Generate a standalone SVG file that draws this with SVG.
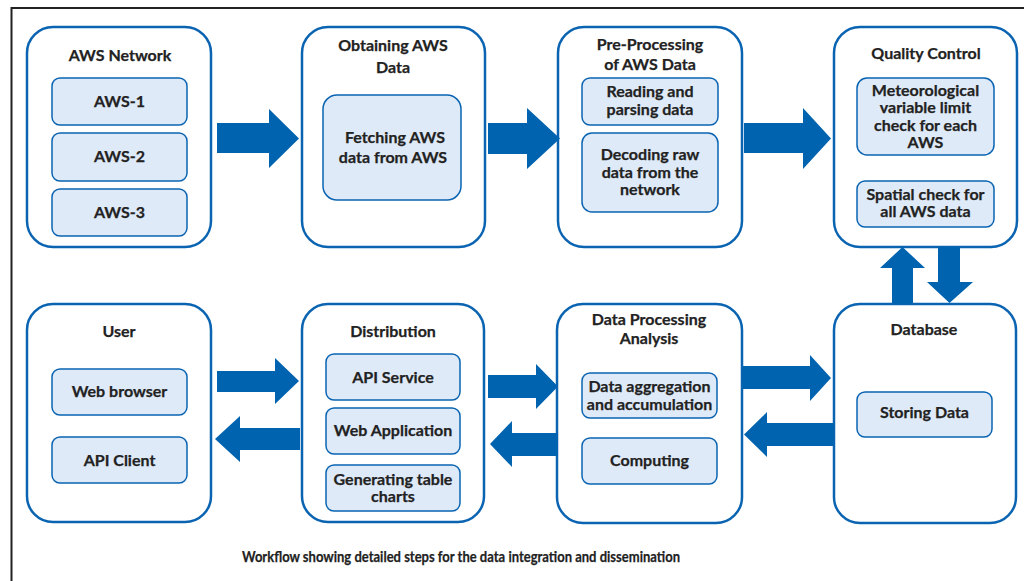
<svg xmlns="http://www.w3.org/2000/svg" width="1024" height="581" viewBox="0 0 1024 581">
<style>
.outer{fill:#fff;stroke:#0a64b2;stroke-width:2.5}
.inner{fill:#dfeaf8;stroke:#0a64b2;stroke-width:1.5}
.t{font-family:Lato,"Liberation Sans",sans-serif;font-weight:700;font-size:16px;fill:#222;text-anchor:middle;stroke:#222;stroke-width:0.25}
.arr{fill:#0063b0}
</style>
<rect x="0" y="0" width="1024" height="581" fill="#fff"/>
<path d="M11.5 581 V8 H1024" fill="none" stroke="#222" stroke-width="2"/>

<g id="aws-network">
<rect class="outer" x="27" y="27" width="184" height="220" rx="26"/>
<text class="t" x="120" y="61">AWS Network</text>
<rect class="inner" x="52" y="78" width="135" height="47" rx="8"/>
<text class="t" x="119.5" y="107">AWS-1</text>
<rect class="inner" x="52" y="133" width="135" height="48" rx="8"/>
<text class="t" x="119.5" y="162">AWS-2</text>
<rect class="inner" x="52" y="189" width="135" height="47" rx="8"/>
<text class="t" x="119.5" y="218">AWS-3</text>
</g>

<g id="obtaining">
<rect class="outer" x="302" y="27" width="183" height="220" rx="26"/>
<text class="t" x="393" y="51">Obtaining AWS</text>
<text class="t" x="393" y="73">Data</text>
<rect class="inner" x="323" y="95" width="138" height="105" rx="14"/>
<text class="t" x="395" y="143">Fetching AWS</text>
<text class="t" x="393" y="163">data from AWS</text>
</g>

<g id="preprocessing">
<rect class="outer" x="558" y="27" width="184" height="220" rx="26"/>
<text class="t" x="650" y="50">Pre-Processing</text>
<text class="t" x="650" y="70">of AWS Data</text>
<rect class="inner" x="582" y="78" width="136" height="47" rx="8"/>
<text class="t" x="650" y="97">Reading and</text>
<text class="t" x="650" y="115">parsing data</text>
<rect class="inner" x="582" y="133" width="136" height="79" rx="10"/>
<text class="t" x="650" y="160">Decoding raw</text>
<text class="t" x="650" y="178">data from the</text>
<text class="t" x="650" y="195">network</text>
</g>

<g id="quality-control">
<rect class="outer" x="834" y="27" width="183" height="220" rx="26"/>
<text class="t" x="926" y="59">Quality Control</text>
<rect class="inner" x="857" y="78" width="137" height="77" rx="10"/>
<text class="t" x="925.5" y="96">Meteorological</text>
<text class="t" x="925.5" y="113">variable limit</text>
<text class="t" x="925.5" y="131">check for each</text>
<text class="t" x="925.5" y="148">AWS</text>
<rect class="inner" x="857" y="181" width="137" height="46" rx="8"/>
<text class="t" x="925.5" y="200">Spatial check for</text>
<text class="t" x="925.5" y="217">all AWS data</text>
</g>

<g id="user">
<rect class="outer" x="27" y="304" width="184" height="218" rx="26"/>
<text class="t" x="119" y="337">User</text>
<rect class="inner" x="52" y="369" width="135" height="46" rx="8"/>
<text class="t" x="119.5" y="397">Web browser</text>
<rect class="inner" x="52" y="437" width="135" height="46" rx="8"/>
<text class="t" x="119.5" y="466">API Client</text>
</g>

<g id="distribution">
<rect class="outer" x="302" y="304" width="182" height="218" rx="26"/>
<text class="t" x="393" y="337">Distribution</text>
<rect class="inner" x="326" y="354" width="134" height="46" rx="8"/>
<text class="t" x="393" y="383">API Service</text>
<rect class="inner" x="326" y="408" width="134" height="46" rx="8"/>
<text class="t" x="393" y="436">Web Application</text>
<rect class="inner" x="326" y="465" width="134" height="46" rx="8"/>
<text class="t" x="393" y="485">Generating table</text>
<text class="t" x="393" y="502">charts</text>
</g>

<g id="data-processing">
<rect class="outer" x="557" y="304" width="185" height="219" rx="26"/>
<text class="t" x="649" y="325">Data Processing</text>
<text class="t" x="649" y="344">Analysis</text>
<rect class="inner" x="582" y="373" width="135" height="45" rx="8"/>
<text class="t" x="649.5" y="392">Data aggregation</text>
<text class="t" x="649.5" y="410">and accumulation</text>
<rect class="inner" x="582" y="438" width="135" height="46" rx="8"/>
<text class="t" x="649.5" y="466">Computing</text>
</g>

<g id="database">
<rect class="outer" x="834" y="304" width="182" height="219" rx="26"/>
<text class="t" x="924" y="335">Database</text>
<rect class="inner" x="857" y="392" width="135" height="45" rx="8"/>
<text class="t" x="924.5" y="418">Storing Data</text>
</g>

<g id="connectors">
<polygon class="arr" points="217,123 269,123 269,109 299,138.5 269,168 269,153 217,153"/>
<polygon class="arr" points="488,123 527,123 527,108 560,138.5 527,169 527,154 488,154"/>
<polygon class="arr" points="744,123 803,123 803,108 831,138.5 803,169 803,153 744,153"/>
<polygon class="arr" points="892,304 892,268 880,268 902.5,247 925,268 913,268 913,304"/>
<polygon class="arr" points="938,247 960,247 960,282 973,282 949.5,303 927,282 938,282"/>
<polygon class="arr" points="742,366 810,366 810,355 831,378 810,401 810,389 742,389"/>
<polygon class="arr" points="834,423 767,423 767,412 744,434.5 767,457 767,446 834,446"/>
<polygon class="arr" points="488,375 536,375 536,364 558,386.5 536,409 536,398 488,398"/>
<polygon class="arr" points="558,433 512,433 512,421 490,444 512,467 512,456 558,456"/>
<polygon class="arr" points="217,371 275,371 275,358 299,381 275,404 275,392 217,392"/>
<polygon class="arr" points="300,428 240,428 240,416 215,439 240,462 240,450 300,450"/>
</g>

<text class="t" x="461" y="562" style="font-size:15px" textLength="438" lengthAdjust="spacingAndGlyphs">Workflow showing detailed steps for the data integration and dissemination</text>
</svg>
